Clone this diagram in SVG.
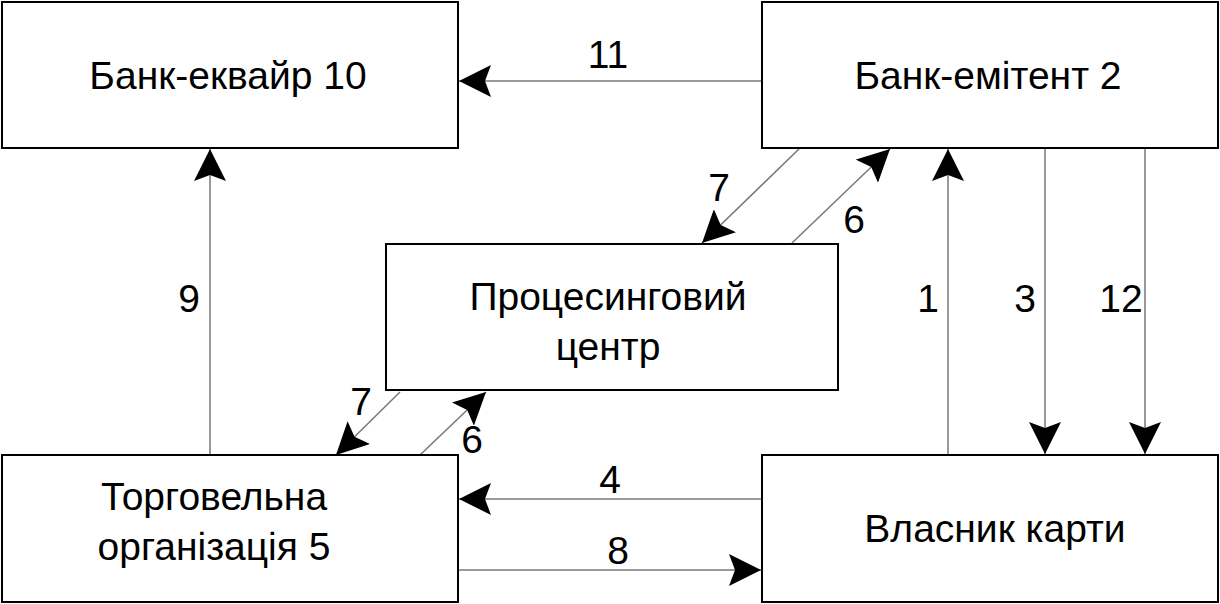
<svg xmlns="http://www.w3.org/2000/svg" width="1220" height="604" viewBox="0 0 1220 604">
<style>
.box{fill:#fff;stroke:#000;stroke-width:2}
.t{font-family:"Liberation Sans",Arial,sans-serif;font-size:39px;fill:#000;text-anchor:middle}
.c{stroke:#777;stroke-width:1.5;fill:none;marker-end:url(#a)}
</style>
<defs>
<marker id="a" markerUnits="userSpaceOnUse" markerWidth="34" markerHeight="32" refX="32" refY="16" orient="auto" viewBox="0 0 34 32">
<path d="M0,0 L32,16 L0,32 L6,16 Z" fill="#000"/>
</marker>
</defs>
<rect width="1220" height="604" fill="#fff"/>
<g id="connectors">
<line class="c" x1="762" y1="81" x2="459" y2="81"/>
<line class="c" x1="210" y1="455" x2="210" y2="149"/>
<line class="c" x1="948" y1="455" x2="948" y2="149"/>
<line class="c" x1="1045" y1="148" x2="1045" y2="454"/>
<line class="c" x1="1145" y1="148" x2="1145" y2="454"/>
<line class="c" x1="762" y1="499" x2="459" y2="499"/>
<line class="c" x1="458" y1="570" x2="761" y2="570"/>
<line class="c" x1="800" y1="148" x2="702" y2="243"/>
<line class="c" x1="792" y1="243" x2="890" y2="149"/>
<line class="c" x1="400" y1="392" x2="336" y2="455"/>
<line class="c" x1="420" y1="455" x2="486" y2="392"/>
<text class="t" x="608" y="68">11</text>
<text class="t" x="189" y="312">9</text>
<text class="t" x="928" y="312">1</text>
<text class="t" x="1025" y="312">3</text>
<text class="t" x="1121" y="312">12</text>
<text class="t" x="610" y="493">4</text>
<text class="t" x="618" y="564">8</text>
<text class="t" x="719" y="201">7</text>
<text class="t" x="854" y="233">6</text>
<text class="t" x="361" y="415">7</text>
<text class="t" x="472" y="453">6</text>
</g>
<g id="acquirer"><rect class="box" x="2" y="2" width="456" height="146"/><text class="t" x="228" y="89">Банк-еквайр 10</text></g>
<g id="issuer"><rect class="box" x="762" y="2" width="456" height="146"/><text class="t" x="988" y="89">Банк-емітент 2</text></g>
<g id="processing"><rect class="box" x="386" y="244" width="452" height="146"/><text class="t" x="608" y="310">Процесинговий</text><text class="t" x="608" y="360">центр</text></g>
<g id="merchant"><rect class="box" x="2" y="455" width="456" height="147"/><text class="t" x="214" y="510">Торговельна</text><text class="t" x="214" y="560">організація 5</text></g>
<g id="holder"><rect class="box" x="762" y="455" width="456" height="147"/><text class="t" x="995" y="542">Власник карти</text></g>
</svg>
